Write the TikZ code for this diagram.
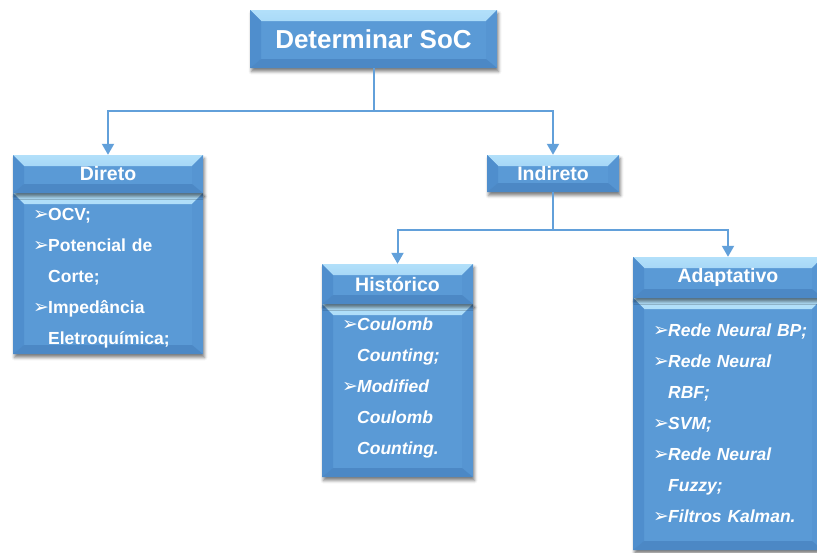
\documentclass[tikz,border=0pt]{standalone}
\usepackage{fontspec}
\setmainfont{Liberation Sans}
\newfontfamily\bulletfont{DejaVu Sans}
\usetikzlibrary{arrows.meta,shadows.blur}

\definecolor{face}{HTML}{5A9AD6}
\definecolor{bevtopA}{HTML}{B2E0FA}
\definecolor{bevtopB}{HTML}{88C1EE}
\definecolor{bevleft}{HTML}{4F8ECD}
\definecolor{bevright}{HTML}{5695D2}
\definecolor{bevbot}{HTML}{4C88C5}
\definecolor{wire}{HTML}{62A0DA}

% bullet and hanging indent for list items
\newcommand\itm{\makebox[15pt][l]{\bulletfont\fontsize{19}{19}\selectfont\raisebox{-0.5pt}{➢}}}
\newcommand\cnt{\hspace*{15pt}}

\tikzset{
  bevelbox/.style={rectangle, inner sep=0pt, fill=face, text=white,
    blur shadow={shadow xshift=1.5pt, shadow yshift=-3.5pt,
                 shadow blur radius=3pt, shadow opacity=50},
    path picture={
      \shade[top color=bevtopA, bottom color=bevtopB]
        (path picture bounding box.north west) -- (path picture bounding box.north east)
        -- ([xshift=-11pt,yshift=-11pt]path picture bounding box.north east)
        -- ([xshift=11pt,yshift=-11pt]path picture bounding box.north west) -- cycle;
      \fill[bevleft]
        (path picture bounding box.north west) -- ([xshift=11pt,yshift=-11pt]path picture bounding box.north west)
        -- ([xshift=11pt,yshift=9pt]path picture bounding box.south west)
        -- (path picture bounding box.south west) -- cycle;
      \fill[bevright]
        (path picture bounding box.north east) -- ([xshift=-11pt,yshift=-11pt]path picture bounding box.north east)
        -- ([xshift=-11pt,yshift=9pt]path picture bounding box.south east)
        -- (path picture bounding box.south east) -- cycle;
      \fill[bevbot]
        (path picture bounding box.south west) -- (path picture bounding box.south east)
        -- ([xshift=-11pt,yshift=9pt]path picture bounding box.south east)
        -- ([xshift=11pt,yshift=9pt]path picture bounding box.south west) -- cycle;
    }},
  headtxt/.style={font=\fontsize{19.5}{19.5}\selectfont\bfseries},
  listtxt/.style={inner sep=0pt, anchor=north west, text=white, align=left,
    font=\fontsize{17.5}{31}\selectfont\bfseries},
  conn/.style={draw=wire, line width=2pt},
  arr/.style={conn, -{Triangle[width=12pt,length=11pt]}},
}

\begin{document}
\begin{tikzpicture}[x=1pt,y=-1pt]
\useasboundingbox (0,0) rectangle (817,552);
\clip (0,0) rectangle (817,552);

% list bodies
\node[bevelbox, minimum width=190pt, minimum height=161pt] (dirbody) at (108,273.5) {};
\node[bevelbox, minimum width=151pt, minimum height=173pt] (histbody) at (397.5,390.5) {};
\node[bevelbox, minimum width=190pt, minimum height=252pt] (adapbody) at (728,424) {};

% headers
\node[bevelbox, minimum width=247pt, minimum height=58pt,
      font=\fontsize{26}{26}\selectfont\bfseries] (det) at (373.5,39) {Determinar SoC};
\node[bevelbox, headtxt, minimum width=190pt, minimum height=38pt] (dir) at (108,174) {\raisebox{-2pt}{Direto}};
\node[bevelbox, headtxt, minimum width=132pt, minimum height=37pt] (ind) at (553,173.5) {\raisebox{-2pt}{Indireto}};
\node[bevelbox, headtxt, minimum width=151pt, minimum height=40pt] (hist) at (397.5,284) {\raisebox{-1pt}{Histórico}};
\node[bevelbox, headtxt, minimum width=190pt, minimum height=41pt] (adap) at (728,277.5) {\raisebox{-1pt}{Adaptativo}};

% item lists
\node[listtxt, text width=175pt] (diritems) at (33,206)
  {\rule{0pt}{14pt}\itm OCV;\\ \itm Potencial de\\ \cnt Corte;\\ \itm Impedância\\ \cnt Eletroquímica;};
\node[listtxt, text width=140pt, font=\fontsize{17.5}{31}\selectfont\bfseries\itshape] (histitems) at (342,316)
  {\rule{0pt}{14pt}\itm Coulomb\\ \cnt Counting;\\ \itm Modified\\ \cnt Coulomb\\ \cnt Counting.};
\node[listtxt, text width=170pt, font=\fontsize{17.5}{31}\selectfont\bfseries\itshape] (adapitems) at (653,322)
  {\rule{0pt}{14pt}\itm Rede Neural BP;\\ \itm Rede Neural\\ \cnt RBF;\\ \itm SVM;\\ \itm Rede Neural\\ \cnt Fuzzy;\\ \itm Filtros Kalman.};

% connectors
\coordinate (j1) at (373.5,111);
\coordinate (j2) at (553,230);
\draw[conn] (det.south) -- (j1);
\draw[arr] (j1) -| (dir.north);
\draw[arr] (j1) -| (ind.north);
\draw[conn] (ind.south) -- (j2);
\draw[arr] (j2) -| (hist.north);
\draw[arr] (j2) -| (adap.north);
\end{tikzpicture}
\end{document}
